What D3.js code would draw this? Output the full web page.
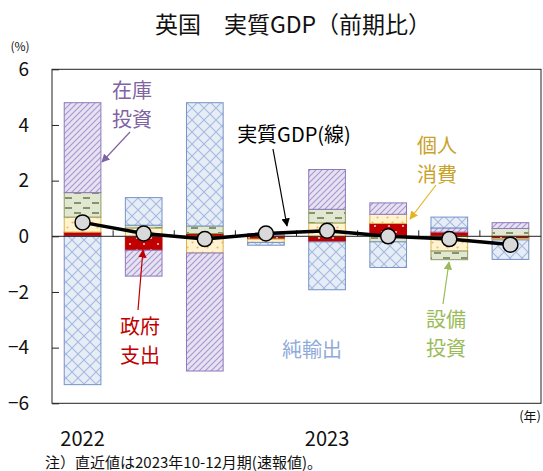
<!DOCTYPE html>
<html><head><meta charset="utf-8">
<script src="https://cdn.jsdelivr.net/npm/d3@7"></script>
<style>
body{margin:0;background:#fff;}
text{font-family:"Noto Sans CJK JP","Noto Sans",sans-serif;}
</style></head>
<body><svg id="c" width="543" height="471"></svg>
<script>
const quarters = ["2022Q1","2022Q2","2022Q3","2022Q4","2023Q1","2023Q2","2023Q3","2023Q4"];
const yearTickQuarters = ["2022Q1","2023Q1"];
const yearTickLabels = ["2022","2023"];
const yTicks = [-6,-4,-2,0,2,4,6];
const seriesNames = ["政府支出","個人消費","設備投資","在庫投資","純輸出"];
const govt        = [0.15,-0.50, 0.10,-0.10,-0.20, 0.46, 0.15,-0.08];
const consumption = [0.54, 0.30,-0.60,-0.12, 0.48, 0.33,-0.53,-0.05];
const businessInv = [0.88, 0.10, 0.27, 0.05, 0.49,-0.20,-0.31, 0.28];
const inventory   = [3.23,-0.93,-4.24, 0.05, 1.43, 0.41, 0.15, 0.21];
const netExports  = [-5.33,0.99, 4.43,-0.10,-1.72,-0.92, 0.39,-0.70];
const gdp         = [0.5, 0.1, -0.1, 0.1, 0.2, 0.0, -0.1, -0.3];

const svg = d3.select("#c");
const L=52,R=541,T=69.3,B=403.3;
const x = d3.scaleBand().domain(quarters).range([L,R]).paddingInner(0.4).paddingOuter(0.2);
const y = d3.scaleLinear().domain([-6,6]).range([B,T]);

const defs = svg.append("defs");
function pat(id,w,h,bg,draw){
  const p=defs.append("pattern").attr("id",id).attr("patternUnits","userSpaceOnUse").attr("width",w).attr("height",h);
  p.append("rect").attr("width",w).attr("height",h).attr("fill",bg);
  draw(p);
}
pat("pGov",14,12,"#c00000",p=>{
  p.append("circle").attr("cx",4).attr("cy",4).attr("r",1.1).attr("fill","#f6c7c7");
  p.append("circle").attr("cx",11).attr("cy",10).attr("r",1.1).attr("fill","#f6c7c7");
});
pat("pCons",10,10,"#fff3d0",p=>{
  p.append("circle").attr("cx",2.5).attr("cy",2.5).attr("r",1.1).attr("fill","#f5b37a");
  p.append("circle").attr("cx",7.5).attr("cy",7.5).attr("r",1.1).attr("fill","#f5b37a");
});
pat("pBiz",18,10,"#e1e7d1",p=>{
  p.append("path").attr("d","M2,3h7M11,8h7M-7,8h7").attr("stroke","#66784a").attr("stroke-width",1.6);
});
pat("pInv",6,6,"#e7e2f2",p=>{
  p.append("path").attr("d","M-1,1l2,-2M0,6l6,-6M5,7l2,-2").attr("stroke","#a895d0").attr("stroke-width",1.1);
});
pat("pNet",12,12,"#e6edf7",p=>{
  p.append("path").attr("d","M0,0L12,12M12,0L0,12").attr("stroke","#a5badf").attr("stroke-width",1.1);
});
const fills = ["url(#pGov)","url(#pCons)","url(#pBiz)","url(#pInv)","url(#pNet)"];
const strokes = ["#c00000","#d9b246","#8c9c66","#8f78bd","#7693c6"];

svg.append("rect").attr("x",L).attr("y",T).attr("width",R-L).attr("height",B-T)
  .attr("fill","none").attr("stroke","#222").attr("stroke-width",1);

const rows = quarters.map((q,i)=>({q, s0:govt[i], s1:consumption[i], s2:businessInv[i], s3:inventory[i], s4:netExports[i]}));
const keys = ["s0","s1","s2","s3","s4"];
const stacked = d3.stack().keys(keys).offset(d3.stackOffsetDiverging)(rows);
stacked.forEach((layer,k)=>{
  svg.append("g").selectAll("rect").data(layer).join("rect")
    .attr("x",d=>x(d.data.q))
    .attr("width",x.bandwidth())
    .attr("y",d=>y(Math.max(d[0],d[1])))
    .attr("height",d=>Math.abs(y(d[0])-y(d[1])))
    .attr("fill",fills[k])
    .attr("stroke",strokes[k]).attr("stroke-width",1);
});

svg.append("line").attr("x1",L).attr("x2",R).attr("y1",y(0)).attr("y2",y(0)).attr("stroke","#222").attr("stroke-width",1);
const step = x.step();
svg.append("g").selectAll("line").data(quarters.slice(1)).join("line")
  .attr("x1",d=>x(d)-step*x.paddingInner()/2).attr("x2",d=>x(d)-step*x.paddingInner()/2)
  .attr("y1",y(0)).attr("y2",y(0)-6).attr("stroke","#222");

const yAxis = d3.axisLeft(y).tickValues(yTicks).tickSize(-7).tickPadding(23).tickFormat(d3.format("d"));
const ga = svg.append("g").attr("transform",`translate(${L},0)`).call(yAxis);
ga.select(".domain").remove();
ga.selectAll("line").attr("stroke","#222");
ga.selectAll("text").attr("font-family","'Noto Sans',sans-serif").attr("font-size",19).attr("fill","#111");

const line = d3.line().x((d,i)=>x(quarters[i])+x.bandwidth()/2).y(d=>y(d));
svg.append("path").datum(gdp).attr("d",line).attr("fill","none").attr("stroke","#000").attr("stroke-width",3.5);
svg.append("g").selectAll("circle").data(gdp).join("circle")
  .attr("cx",(d,i)=>x(quarters[i])+x.bandwidth()/2).attr("cy",d=>y(d)).attr("r",7.5)
  .attr("fill","#d9d9d9").attr("stroke","#000").attr("stroke-width",1.5);

svg.append("g").selectAll("text").data(yearTickQuarters).join("text")
  .attr("x",d=>x(d)+x.bandwidth()/2).attr("y",446).attr("text-anchor","middle")
  .attr("font-family","'Noto Sans',sans-serif").attr("font-size",20).attr("fill","#111")
  .text((d,i)=>yearTickLabels[i]);

svg.append("text").attr("x",293).attr("y",33).attr("text-anchor","middle").attr("font-size",23).attr("fill","#111").text("英国　実質GDP（前期比）");
svg.append("text").attr("x",20).attr("y",51).attr("text-anchor","middle").attr("font-size",12).attr("fill","#111").text("(%)");
svg.append("text").attr("x",541).attr("y",421).attr("text-anchor","end").attr("font-size",13).attr("fill","#111").text("(年)");
svg.append("text").attr("x",45).attr("y",468).attr("font-size",15).attr("fill","#111")
  .attr("font-family","'Liberation Serif','Noto Sans CJK JP',serif").text("注）直近値は2023年10-12月期(速報値)。");

function marker(id,color){
  defs.append("marker").attr("id",id).attr("viewBox","0 0 10 10").attr("refX",9).attr("refY",5)
    .attr("markerWidth",7).attr("markerHeight",7).attr("orient","auto")
    .append("path").attr("d","M0,0L10,5L0,10z").attr("fill",color);
}
function label(lines,cx,y0,color,lh){
  lines.forEach((s,i)=>svg.append("text").attr("text-anchor","middle").attr("font-size",20)
    .attr("fill",color).attr("x",cx).attr("y",y0+i*lh).text(s));
}
function arrow(x1,y1,x2,y2,color,id,w){
  svg.append("line").attr("x1",x1).attr("y1",y1).attr("x2",x2).attr("y2",y2)
    .attr("stroke",color).attr("stroke-width",w||1.2).attr("marker-end",`url(#${id})`);
}
marker("mInv","#8064a2"); marker("mGdp","#000"); marker("mCons","#e6b422"); marker("mGov","#c00000"); marker("mBiz","#9bbb59");
label(["在庫","投資"],132,98,"#8064a2",29);
arrow(130,132,102,162,"#8064a2","mInv");
label(["実質GDP(線)"],294,142,"#000",29);
arrow(273,149,287,226,"#000","mGdp");
label(["個人","消費"],437,153,"#c9a22a",29);
arrow(436,185,410,219,"#e6b422","mCons");
label(["政府","支出"],140,334,"#c00000",29);
arrow(138,310,143,250,"#c00000","mGov");
label(["純輸出"],312,357,"#8eaadb",29);
label(["設備","投資"],446,327,"#9bbb59",29);
arrow(443,304,449,262,"#9bbb59","mBiz");
</script></body></html>
